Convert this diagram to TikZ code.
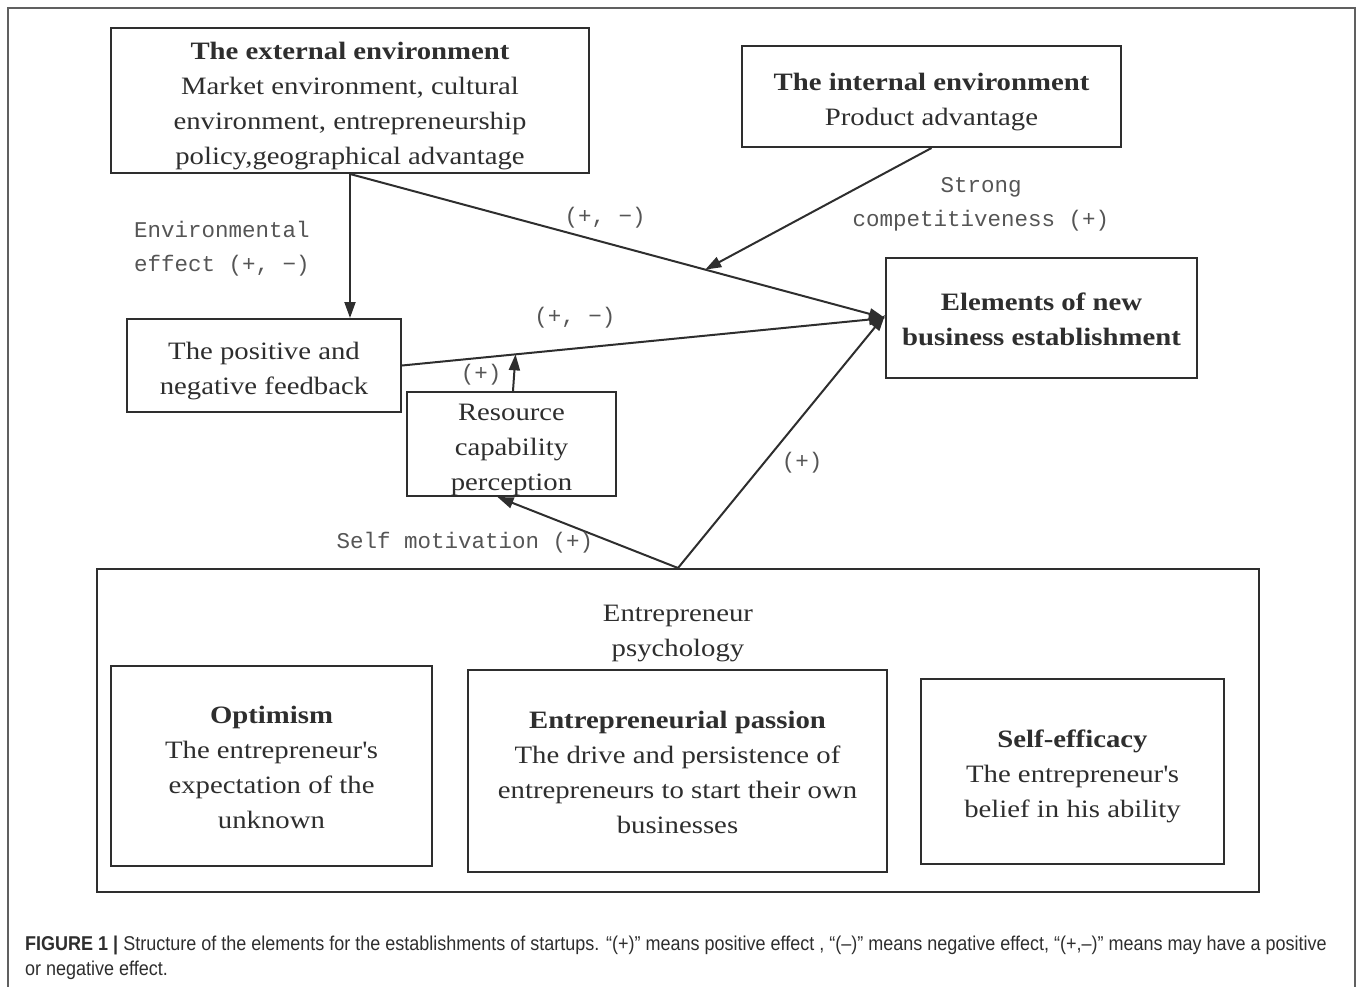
\documentclass[tikz,border=0pt]{standalone}
\usepackage{fontspec}
\setmainfont[FakeStretch=1.15]{Liberation Serif}
\setmonofont{Liberation Mono}
\newfontfamily\capfont[FakeStretch=0.9]{Liberation Sans}
\usetikzlibrary{arrows.meta,calc}
\definecolor{ink}{HTML}{2E2E2E}
\definecolor{lbl}{HTML}{555555}
\definecolor{frame}{HTML}{606060}
\newcommand{\st}{\rule{0pt}{27.5pt}}
\newcommand{\stb}{\rule{0pt}{21pt}}
\tikzset{
  box/.style={draw=ink, line width=2pt, rectangle, inner sep=0pt, align=center, text=ink,
    font=\fontsize{25}{35}\selectfont},
  lab/.style={text=lbl, font=\ttfamily\fontsize{22.5}{34}\selectfont, align=center, inner sep=0pt},
  arr/.style={draw=ink, line width=2pt, -{Triangle[length=16pt,width=11pt]}},
}
\newcommand{\ttl}[1]{\textbf{#1}}
\begin{document}
\begin{tikzpicture}[x=1pt,y=-1pt]
\useasboundingbox (0,0) rectangle (1357,986);
\draw[frame, line width=1.5pt] (8,990) -- (8,8) -- (1355,8) -- (1355,990);

\node[box, minimum width=478pt, minimum height=145pt] (ext) at (350,100.5)
  {\st\ttl{The external environment}\\Market environment, cultural\\environment, entrepreneurship\\policy,geographical advantage};
\node[box, minimum width=379pt, minimum height=101pt] (int) at (931.5,96.5)
  {\st\ttl{The internal environment}\\Product advantage};
\node[box, minimum width=311pt, minimum height=120pt] (el) at (1041.5,318)
  {\stb\ttl{Elements of new}\\\ttl{business establishment}};
\node[box, minimum width=274pt, minimum height=93pt] (fb) at (264,365.5)
  {\st The positive and\\negative feedback};
\node[box, minimum width=209pt, minimum height=104pt] (res) at (511.5,444)
  {\st Resource\\capability\\perception};
\node[draw=ink, line width=2pt, rectangle, minimum width=1162pt, minimum height=323pt, inner sep=0pt] (psy) at (678,730.5) {};
\node[text=ink, align=center, inner sep=0pt, font=\fontsize{25}{35}\selectfont] (psyl) at (678,634)
  {Entrepreneur\\psychology};
\node[box, minimum width=321pt, minimum height=200pt] (opt) at (271.5,766)
  {\stb\ttl{Optimism}\\The entrepreneur\textquotesingle s\\expectation of the\\unknown};
\node[box, minimum width=419pt, minimum height=202pt] (pas) at (677.5,771)
  {\stb\ttl{Entrepreneurial passion}\\The drive and persistence of\\entrepreneurs to start their own\\businesses};
\node[box, minimum width=303pt, minimum height=185pt] (se) at (1072.5,771.5)
  {\st\ttl{Self-efficacy}\\The entrepreneur\textquotesingle s\\belief in his ability};

% connectors
\draw[arr] (ext.south) -- (ext.south |- fb.north);
\draw[arr] (ext.south) -- (el.west);
\coordinate (m1) at ($(ext.south)!0.664!(el.west)$);
\draw[arr] (int.south) -- (m1);
\draw[arr] (fb.east) -- (el.west);
\coordinate (m2) at ($(fb.east)!0.235!(el.west)$);
\draw[arr] ([xshift=1.5pt]res.north) -- (m2);
\draw[arr] (psy.north) -- ([xshift=-14pt]res.south);
\draw[arr] (psy.north) -- ([yshift=3pt]el.west);

% labels
\node[lab] (l1) at (222,249) {Environmental\\effect (+, −)};
\node[lab] (l2) at (605,218) {(+, −)};
\node[lab] (l3) at (981,204) {Strong\\competitiveness (+)};
\node[lab] (l4) at (575,318) {(+, −)};
\node[lab] (l5) at (481,375) {(+)};
\node[lab] (l6) at (802,463) {(+)};
\node[lab] (l7) at (465,543) {Self motivation (+)};

% caption
\node[anchor=west, inner sep=0pt, text=ink, font=\capfont\fontsize{20}{25}\selectfont] (cap1) at (25,945)
  {\textbf{FIGURE 1 |} Structure of the elements for the establishments of startups. “(+)” means positive effect , “(–)” means negative effect, “(+,–)” means may have a positive};
\node[anchor=west, inner sep=0pt, text=ink, font=\capfont\fontsize{20}{25}\selectfont] (cap2) at (25,970)
  {or negative effect.};
\end{tikzpicture}
\end{document}
